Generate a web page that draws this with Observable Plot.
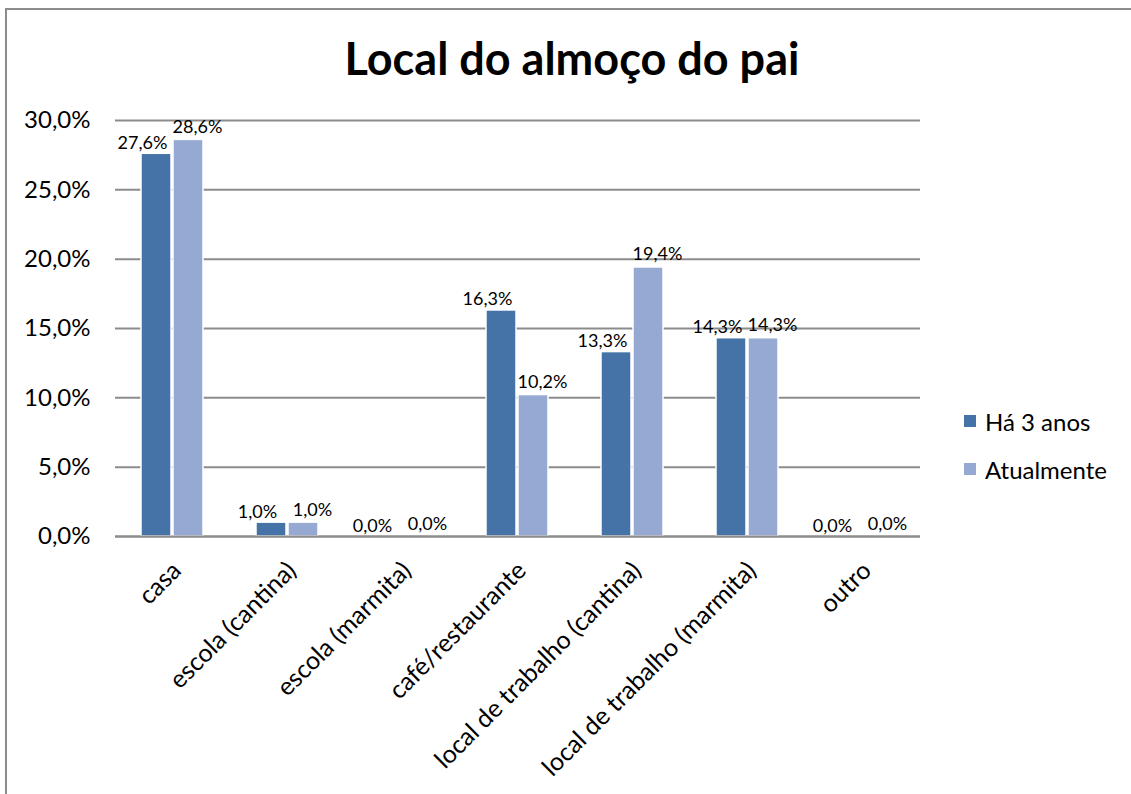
<!DOCTYPE html>
<html><head><meta charset="utf-8">
<script src="https://cdn.jsdelivr.net/npm/d3@7"></script>
<script src="https://cdn.jsdelivr.net/npm/@observablehq/plot@0.6"></script>
<style>
html,body{margin:0;background:#fff;font-family:Lato,"Open Sans",sans-serif;overflow:hidden;}
#wrap{position:relative;width:1131px;height:794px;overflow:hidden;}
#btop{position:absolute;left:5px;top:8px;width:1126px;height:2px;background:#8c8c8c;}
#bleft{position:absolute;left:5px;top:8px;width:2px;height:786px;background:#8c8c8c;}
#title{position:absolute;left:0;width:1144px;top:31px;text-align:center;font-weight:bold;font-size:45px;line-height:54px;color:#000;}
#legend{position:absolute;left:964px;top:397px;font-size:24px;color:#000;}
#legend div{display:flex;align-items:center;height:48px;}
#legend span.sw{display:inline-block;width:12px;height:12px;margin-right:9px;}
#chart{position:absolute;left:0;top:0;}
</style></head>
<body><div id="wrap"><div id="btop"></div><div id="bleft"></div><div id="chart"></div><div id="title">Local do almoço do pai</div><div id="legend"></div></div>
<script>
const categories = ["casa","escola (cantina)","escola (marmita)","café/restaurante","local de trabalho (cantina)","local de trabalho (marmita)","outro"];
const series = ["Há 3 anos","Atualmente"];
const ha3anos = [27.6, 1.0, 0.0, 16.3, 13.3, 14.3, 0.0];
const atualmente = [28.6, 1.0, 0.0, 10.2, 19.4, 14.3, 0.0];
const yTicks = [0,5,10,15,20,25,30];
const colors = ["#4573a7","#95a9d2"];

const data = [];
categories.forEach((c,i)=>{
  data.push({cat:c, s:series[0], v:ha3anos[i]});
  data.push({cat:c, s:series[1], v:atualmente[i]});
});
const fmt = v => v.toFixed(1).replace(".", ",") + "%";

const plot = Plot.plot({
  width:1131, height:794,
  marginLeft:113, marginRight:210, marginTop:120, marginBottom:258,
  style:{fontFamily:"Lato, 'Open Sans', sans-serif", color:"#000", background:"transparent"},
  fx:{domain:categories, padding:0, label:null},
  x:{domain:series, axis:null, paddingInner:0.05, paddingOuter:0.775},
  y:{domain:[0,30], label:null},
  color:{domain:series, range:colors},
  marks:[
    Plot.gridY(yTicks, {stroke:"#8c8c8c", strokeWidth:2, strokeOpacity:1}),
    Plot.barY(data, {fx:"cat", x:"s", y:"v", fill:"s", stroke:"#fff", strokeWidth:1.5}),
    Plot.ruleY([0], {stroke:"#8c8c8c", strokeWidth:2}),
    Plot.text(data.filter(d=>d.s===series[0]), {fx:"cat", x:"s", y:"v", text:d=>fmt(d.v), lineAnchor:"bottom", dy:-5, dx:-14, fontSize:18, fill:"#000"}),
    Plot.text(data.filter(d=>d.s===series[1]), {fx:"cat", x:"s", y:"v", text:d=>fmt(d.v), lineAnchor:"bottom", dy:-7, dx:9, fontSize:18, fill:"#000"}),
    Plot.axisY(yTicks, {tickSize:0, tickPadding:25, fontSize:24, tickFormat:fmt, label:null, line:true, stroke:"#8c8c8c", strokeWidth:2}),
    Plot.axisFx({anchor:"bottom", tickSize:0, tickPadding:30, dx:4, tickRotate:-45, textAnchor:"end", fontSize:25, label:null})
  ]
});
document.getElementById("chart").appendChild(plot);

const leg = document.getElementById("legend");
series.forEach((s,i)=>{
  const d = document.createElement("div");
  d.innerHTML = `<span class="sw" style="background:${colors[i]}"></span>${s}`;
  leg.appendChild(d);
});
</script></body></html>
